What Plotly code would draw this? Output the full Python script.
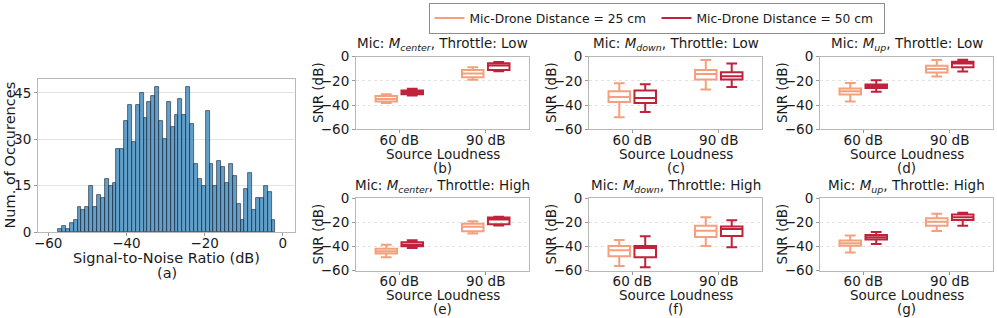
import plotly.graph_objects as go

# ---------------- data ----------------
hist_counts = [1, 2, 1, 3, 4, 8, 7, 8, 15, 8, 12, 11, 17, 15, 16, 27, 27, 36, 41, 29,
               41, 45, 37, 42, 44, 47, 36, 30, 42, 34, 38, 43, 38, 47, 35, 22, 17, 15,
               39, 22, 15, 23, 21, 16, 22, 18, 9, 4, 14, 19, 7, 11, 11, 15, 13, 4]
hist_start = -57.44   # left edge of first bin (dB)
hist_width = 0.992    # bin width (dB)

loudness = ["60 dB", "90 dB"]
series_names = ["Mic-Drone Distance = 25 cm", "Mic-Drone Distance = 50 cm"]

# box statistics per panel: [lowerfence, q1, median, q3, upperfence] for 60 dB and 90 dB
panels = {
    "b": {"mic": "center", "thr": "Low",
          "25": [[-38.3, -37.0, -35.0, -32.5, -31.1], [-19.0, -17.0, -13.8, -11.0, -8.8]],
          "50": [[-32.0, -31.0, -29.5, -28.0, -26.5], [-12.0, -11.0, -7.2, -5.5, -4.4]]},
    "c": {"mic": "down", "thr": "Low",
          "25": [[-50.0, -37.5, -33.3, -28.6, -22.0], [-27.2, -18.9, -14.2, -11.0, -2.8]],
          "50": [[-45.8, -38.3, -34.2, -28.0, -22.8], [-25.0, -18.9, -16.1, -12.8, -5.6]]},
    "d": {"mic": "up", "thr": "Low",
          "25": [[-37.1, -31.2, -28.6, -26.3, -21.8], [-16.4, -13.0, -10.2, -7.4, -2.8]],
          "50": [[-29.0, -25.8, -24.4, -23.0, -19.5], [-12.2, -8.8, -5.7, -4.2, -2.5]]},
    "e": {"mic": "center", "thr": "High",
          "25": [[-48.9, -45.8, -43.9, -41.9, -38.5], [-29.3, -27.4, -23.7, -21.2, -19.0]],
          "50": [[-41.3, -39.9, -38.5, -36.6, -34.9], [-22.6, -21.5, -17.6, -15.9, -15.4]]},
    "f": {"mic": "down", "thr": "High",
          "25": [[-56.3, -48.2, -43.1, -39.7, -34.6], [-39.7, -32.1, -27.0, -22.8, -15.8]],
          "50": [[-57.2, -49.0, -41.4, -39.7, -31.5], [-40.6, -31.3, -25.6, -23.4, -18.3]]},
    "g": {"mic": "up", "thr": "High",
          "25": [[-45.1, -39.4, -37.4, -35.1, -30.9], [-27.1, -22.9, -19.4, -16.6, -12.9]],
          "50": [[-38.0, -34.3, -32.3, -30.6, -28.0], [-22.9, -18.0, -15.7, -13.4, -12.0]]},
}

snr_ticks = [-60, -40, -20, 0]
hist_xticks = [-60, -40, -20, 0]
hist_yticks = [0, 15, 30, 45]

# ---------------- style ----------------
W, H = 997, 318
FONT = "DejaVu Sans"
TXT = "#1a1a1a"
C25 = "#f4a07c"
C50 = "#c0223b"
FRAME = "#b8b8b8"
GRID = "#e3e3e3"

def px(x):
    return x / W

def py(y):
    return 1 - y / H

fig = go.Figure()

# ---- histogram (a)
centers = [hist_start + hist_width * (i + 0.5) for i in range(len(hist_counts))]
fig.add_trace(go.Bar(x=centers, y=hist_counts, width=hist_width,
                     marker=dict(color="rgba(31,119,180,0.7)",
                                 line=dict(color="rgba(30,40,55,0.8)", width=0.8)),
                     xaxis="x", yaxis="y", showlegend=False, hoverinfo="skip"))

# panel geometry in pixels (left, right, top, bottom)
cols = [(356, 529), (589, 762), (820, 993)]
rows = [(56.7, 129.3), (198.3, 270.5)]
order = ["b", "c", "d", "e", "f", "g"]

layout = dict(
    width=W, height=H, margin=dict(l=0, r=0, t=0, b=0, autoexpand=False),
    paper_bgcolor="white", plot_bgcolor="white",
    font=dict(family=FONT, size=13.5, color=TXT),
    boxmode="group", boxgap=0.4, boxgroupgap=0.17, bargap=0,
    showlegend=True,
    legend=dict(orientation="h", x=px(656.5), xanchor="center", y=py(2.5), yanchor="top",
                bordercolor="#8c8c8c", borderwidth=1, bgcolor="white",
                font=dict(size=12.3, family=FONT, color=TXT), itemwidth=30,
                entrywidth=182, traceorder="normal", tracegroupgap=0),
)

axis_common = dict(showline=True, mirror=True, linecolor=FRAME, linewidth=1,
                   ticks="outside", ticklen=3, tickcolor="#9a9a9a", zeroline=False,
                   tickfont=dict(size=13.5, family=FONT, color=TXT))

layout["xaxis"] = dict(domain=[px(38), px(295)], anchor="y", range=[-62.6, 3.1],
                       tickvals=hist_xticks, showgrid=False, ticklabelstandoff=-4,
                       **axis_common)
layout["yaxis"] = dict(domain=[py(232), py(79)], anchor="x", range=[0, 49.5],
                       tickvals=hist_yticks, showgrid=True, gridcolor=GRID, gridwidth=1,
                       **axis_common)

annotations = []
def ann(text, x, y, size=14, angle=0, xanchor="center", yanchor="middle"):
    annotations.append(dict(text=text, x=x, y=y, xref="paper", yref="paper",
                            showarrow=False, textangle=angle, xanchor=xanchor,
                            yanchor=yanchor, font=dict(size=size, family=FONT, color=TXT)))

ann("Signal-to-Noise Ratio (dB)", px(166.5), py(258.3), size=14.5)
ann("(a)", px(166.5), py(273.3), size=14.5)
ann("Num. of Occurences", px(10), py(155.5), size=14.5, angle=-90)

for i, key in enumerate(order):
    r, c = divmod(i, 3)
    (l, rt), (t, b) = cols[c], rows[r]
    n = i + 2
    xa, ya = f"x{n}", f"y{n}"
    layout[f"xaxis{n}"] = dict(domain=[px(l), px(rt)], anchor=ya, type="category",
                               range=[-0.5, 1.5], showgrid=False, ticklabelstandoff=-5,
                               **axis_common)
    layout[f"yaxis{n}"] = dict(domain=[py(b), py(t)], anchor=xa, range=[-60, 0],
                               tickvals=snr_ticks, showgrid=True, gridcolor=GRID,
                               griddash="dot", gridwidth=1, **axis_common)
    p = panels[key]
    for sk, col, name in (("25", C25, series_names[0]), ("50", C50, series_names[1])):
        st = p[sk]
        fig.add_trace(go.Box(
            x=loudness, xaxis=xa, yaxis=ya, name=name,
            alignmentgroup=f"ag{key}", offsetgroup=sk,
            lowerfence=[s[0] for s in st], q1=[s[1] for s in st],
            median=[s[2] for s in st], q3=[s[3] for s in st],
            upperfence=[s[4] for s in st],
            line=dict(color=col, width=2), fillcolor="rgba(255,255,255,0)",
            whiskerwidth=0.5, boxpoints=False, showlegend=False, hoverinfo="skip"))
    cx = (l + rt) / 2
    ann(f"Mic: <i>M</i><sub><i>{p['mic']}</i></sub>, Throttle: {p['thr']}",
        px(cx), py(t - 1.5), size=13.5, yanchor="bottom")
    ann("Source Loudness", px(cx), py(b + 24.5), size=13.5)
    ann(f"({key})", px(cx), py(b + 38.5), size=13.5)
    ann("SNR (dB)", px(l - 38), py((t + b) / 2), size=13.5, angle=-90)

# legend entries
for col, name in ((C25, series_names[0]), (C50, series_names[1])):
    fig.add_trace(go.Scatter(x=[None], y=[None], mode="lines", name=name,
                             line=dict(color=col, width=2), xaxis="x2", yaxis="y2"))

layout["annotations"] = annotations
fig.update_layout(**layout)
fig.write_html("out.html", config={"displayModeBar": False},
               post_script="document.body.style.margin='0';document.body.style.padding='0';")
